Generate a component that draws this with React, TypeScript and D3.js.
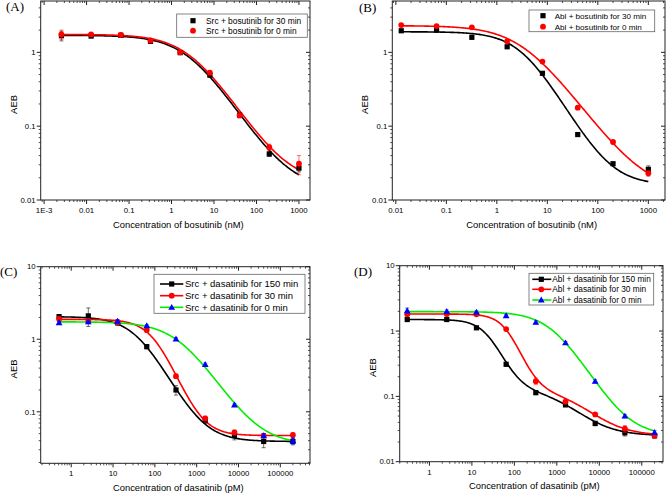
import React from 'react';
import * as d3 from 'd3';

// concentrations (nM for bosutinib, pM for dasatinib)
const bosConcA = [0.00256, 0.0128, 0.064, 0.32, 1.6, 8, 40, 200, 1000];
const bosConcB = [0.0128, 0.064, 0.32, 1.6, 8, 40, 200, 1000];
const dasConcC = [0.512, 2.56, 12.8, 64, 320, 1600, 8000, 40000, 200000];
const dasConcD = [0.3, 2.56, 12.8, 64, 320, 1600, 8000, 40000, 200000];

// AEB values
const srcBos30 = [1.68, 1.66, 1.7, 1.41, 0.99, 0.49, 0.141, 0.042, 0.027];
const srcBos30Err = [0.25, 0.05, 0.05, 0.06, 0.03, 0.02, 0.006, 0.003, 0.003];
const srcBos0 = [1.75, 1.75, 1.72, 1.45, 1.0, 0.53, 0.14, 0.052, 0.031];
const srcBos0Err = [0.25, 0.06, 0.1, 0.08, 0.03, 0.03, 0.01, 0.005, 0.009];

const ablBos30 = [1.96, 2.0, 1.6, 1.19, 0.52, 0.077, 0.031, 0.026];
const ablBos30Err = [0.05, 0.05, 0.1, 0.05, 0.02, 0.003, 0.001, 0.003];
const ablBos0 = [2.34, 2.27, 2.18, 1.41, 0.75, 0.178, 0.061, 0.023];
const ablBos0Err = [0.05, 0.06, 0.05, 0.05, 0.03, 0.006, 0.002, 0.002];

const srcDas150 = [2.05, 2.1, 1.69, 0.79, 0.2, 0.077, 0.047, 0.039, 0.039];
const srcDas150Err = [0.15, 0.6, 0.15, 0.05, 0.03, 0.008, 0.006, 0.007, 0.004];
const srcDas30 = [1.9, 1.79, 1.72, 1.34, 0.31, 0.081, 0.052, 0.047, 0.048];
const srcDas30Err = [0.15, 0.1, 0.1, 0.1, 0.02, 0.006, 0.004, 0.003, 0.003];
const srcDas0 = [1.69, 1.74, 1.78, 1.54, 1.01, 0.45, 0.124, 0.047, 0.04];
const srcDas0Err = [0.08, 0.1, 0.1, 0.05, 0.04, 0.02, 0.005, 0.003, 0.004];

const ablDas150 = [1.5, 1.5, 1.12, 0.31, 0.114, 0.074, 0.0385, 0.0277, 0.025];
const ablDas150Err = [0.05, 0.05, 0.04, 0.02, 0.008, 0.004, 0.003, 0.003, 0.002];
const ablDas30 = [1.8, 1.82, 1.8, 1.07, 0.171, 0.083, 0.053, 0.032, 0.025];
const ablDas30Err = [0.08, 0.08, 0.06, 0.05, 0.02, 0.005, 0.003, 0.004, 0.002];
const ablDas0 = [2.05, 2.0, 1.95, 1.72, 1.36, 0.66, 0.17, 0.05, 0.028];
const ablDas0Err = [0.2, 0.1, 0.1, 0.08, 0.08, 0.03, 0.01, 0.003, 0.002];

// dose-response fit parameters: top, bottom, ic50, hill, fraction, ic50 (2nd phase), hill (2nd)
const fitSrcBos30 = [1.7, 0.014, 2.6, 0.9, 1, 1, 1];
const fitSrcBos0 = [1.75, 0.017, 2.8, 0.9, 1, 1, 1];
const fitAblBos30 = [1.9, 0.016, 3.3, 1.22, 1, 1, 1];
const fitAblBos0 = [2.3, 0.013, 3.34, 0.95, 1, 1, 1];
const fitSrcDas150 = [2.05, 0.039, 40, 1.15, 1, 1, 1];
const fitSrcDas30 = [1.88, 0.047, 100, 1.5, 1, 1, 1];
const fitSrcDas0 = [1.74, 0.035, 420, 0.95, 1, 1, 1];
const fitAblDas150 = [1.5, 0.025, 25, 1.8, 0.932, 1500, 1];
const fitAblDas30 = [1.82, 0.025, 70, 2, 0.945, 3000, 1];
const fitAblDas0 = [1.98, 0.025, 820, 1.1, 1, 1, 1];

const bosTicksA = [0.001, 0.01, 0.1, 1, 10, 100, 1000];
const bosTickLabelsA = ['1E-3', '0.01', '0.1', '1', '10', '100', '1000'];
const bosTicksB = [0.01, 0.1, 1, 10, 100, 1000];
const bosTickLabelsB = ['0.01', '0.1', '1', '10', '100', '1000'];
const dasTicks = [1, 10, 100, 1000, 10000, 100000];
const dasTickLabels = ['1', '10', '100', '1000', '10000', '100000'];
const aebTicksAB = [0.01, 0.1, 1];
const aebLabelsAB = ['0.01', '0.1', '1'];
const aebTicksC = [0.1, 1, 10];
const aebLabelsC = ['0.1', '1', '10'];
const aebTicksD = [0.01, 0.1, 1, 10];
const aebLabelsD = ['0.01', '0.1', '1', '10'];

const SANS = '"Liberation Sans", Arial, sans-serif';
const SERIF = '"Liberation Serif", "Times New Roman", serif';

function doseResp(p) {
  const [top, bottom, c1, h1, frac, c2, h2] = p;
  return (x) => bottom + (top - bottom) *
    (frac / (1 + Math.pow(x / c1, h1)) + (1 - frac) / (1 + Math.pow(x / c2, h2)));
}

function Marker({ type, x, y, fill }) {
  if (type === 'square') return <rect x={x - 2.6} y={y - 2.6} width={5.2} height={5.2} fill={fill} />;
  if (type === 'circle') return <circle cx={x} cy={y} r={2.9} fill={fill} />;
  const s = 3.4;
  return <path d={`M${x},${y - s}L${x + s},${y + s * 0.75}L${x - s},${y + s * 0.75}Z`} fill={fill} />;
}

function minorTicks(dom) {
  const out = [];
  const lo = Math.floor(Math.log10(dom[0])), hi = Math.ceil(Math.log10(dom[1]));
  for (let e = lo; e <= hi; e++) {
    for (let m = 2; m <= 9; m++) {
      const v = m * Math.pow(10, e);
      if (v >= dom[0] && v <= dom[1]) out.push(v);
    }
  }
  return out;
}

function Panel(props) {
  const { box, xDom, yDom, xTicks, xLabels, yTicks, yLabels, xTitle, tag, tagPos, legend, series, conc, fs } = props;
  const x = d3.scaleLog().domain(xDom).range([box.l, box.r]);
  const y = d3.scaleLog().domain(yDom).range([box.b, box.t]);
  const xs = d3.range(0, 201).map(i => Math.exp(Math.log(conc[0]) + (Math.log(conc[conc.length - 1]) - Math.log(conc[0])) * i / 200));
  const ax = '#222';
  return (
    <g>
      <text x={tagPos[0]} y={tagPos[1]} fontFamily={SERIF} fontSize={13}>{tag}</text>
      <rect x={box.l} y={box.t} width={box.r - box.l} height={box.b - box.t} fill="none" stroke={ax} strokeWidth={1} />
      {/* x ticks */}
      {minorTicks(xDom).map((v, i) => (
        <g key={'xm' + i}>
          <line x1={x(v)} x2={x(v)} y1={box.b} y2={box.b + 2} stroke={ax} strokeWidth={0.8} />
          <line x1={x(v)} x2={x(v)} y1={box.t} y2={box.t + 2} stroke={ax} strokeWidth={0.8} />
        </g>
      ))}
      {xTicks.map((v, i) => (
        <g key={'x' + i}>
          <line x1={x(v)} x2={x(v)} y1={box.b} y2={box.b + 4} stroke={ax} strokeWidth={1} />
          <line x1={x(v)} x2={x(v)} y1={box.t} y2={box.t + 4} stroke={ax} strokeWidth={1} />
          <text x={x(v)} y={box.b + 13} textAnchor="middle" fontFamily={SANS} fontSize={fs}>{xLabels[i]}</text>
        </g>
      ))}
      {/* y ticks */}
      {minorTicks(yDom).map((v, i) => (
        <g key={'ym' + i}>
          <line x1={box.l - 2} x2={box.l} y1={y(v)} y2={y(v)} stroke={ax} strokeWidth={0.8} />
          <line x1={box.r - 2} x2={box.r} y1={y(v)} y2={y(v)} stroke={ax} strokeWidth={0.8} />
        </g>
      ))}
      {yTicks.map((v, i) => (
        <g key={'y' + i}>
          <line x1={box.l - 4} x2={box.l} y1={y(v)} y2={y(v)} stroke={ax} strokeWidth={1} />
          <line x1={box.r - 4} x2={box.r} y1={y(v)} y2={y(v)} stroke={ax} strokeWidth={1} />
          <text x={box.l - 5} y={y(v) + fs * 0.35} textAnchor="end" fontFamily={SANS} fontSize={fs}>{yLabels[i]}</text>
        </g>
      ))}
      <text x={(box.l + box.r) / 2 + 3} y={box.b + 27.5} textAnchor="middle" fontFamily={SANS} fontSize={9.4}>{xTitle}</text>
      <text transform={`translate(${box.l - 24},${(box.t + box.b) / 2 + 4}) rotate(-90)`} textAnchor="middle" fontFamily={SANS} fontSize={9.4}>AEB</text>
      {/* fitted curves */}
      {series.map((s, k) => {
        const f = doseResp(s.fit);
        const line = d3.line().x(d => x(d)).y(d => y(f(d)));
        return <path key={'c' + k} d={line(xs)} fill="none" stroke={s.line} strokeWidth={1.6} />;
      })}
      {/* error bars + points */}
      {series.map((s, k) => (
        <g key={'p' + k}>
          {s.y.map((v, i) => {
            const e = s.err[i];
            if (!e) return null;
            const cx = x(conc[i]);
            return (
              <g key={i} stroke={s.color} strokeWidth={0.7} opacity={0.8}>
                <line x1={cx} x2={cx} y1={y(v + e)} y2={y(Math.max(v - e, yDom[0]))} />
                <line x1={cx - 2} x2={cx + 2} y1={y(v + e)} y2={y(v + e)} />
                <line x1={cx - 2} x2={cx + 2} y1={y(v - e)} y2={y(v - e)} />
              </g>
            );
          })}
          {s.y.map((v, i) => <Marker key={i} type={s.marker} x={x(conc[i])} y={y(v)} fill={s.color} />)}
        </g>
      ))}
      {/* legend */}
      <rect x={legend.x} y={legend.y} width={legend.w} height={legend.h} fill="#fff" stroke="#666" strokeWidth={0.8} />
      {series.map((s, k) => {
        const ry = legend.rows[k];
        return (
          <g key={'l' + k}>
            {legend.line && <line x1={legend.line[0]} x2={legend.line[1]} y1={ry} y2={ry} stroke={s.line} strokeWidth={1.6} />}
            <Marker type={s.marker} x={legend.mx} y={ry} fill={s.color} />
            <text x={legend.tx} y={ry + legend.fs * 0.36} fontFamily={SANS} fontSize={legend.fs}>{s.name}</text>
          </g>
        );
      })}
    </g>
  );
}

export default function App() {
  const seriesA = [
    { name: 'Src + bosutinib for 30 min', y: srcBos30, err: srcBos30Err, fit: fitSrcBos30, color: '#000', line: '#000', marker: 'square' },
    { name: 'Src + bosutinib for 0 min', y: srcBos0, err: srcBos0Err, fit: fitSrcBos0, color: '#ff0000', line: '#ff0000', marker: 'circle' },
  ];
  const seriesB = [
    { name: 'Abl + bosutinib for 30 min', y: ablBos30, err: ablBos30Err, fit: fitAblBos30, color: '#000', line: '#000', marker: 'square' },
    { name: 'Abl + bosutinib for 0 min', y: ablBos0, err: ablBos0Err, fit: fitAblBos0, color: '#ff0000', line: '#ff0000', marker: 'circle' },
  ];
  const seriesC = [
    { name: 'Src + dasatinib for 150 min', y: srcDas150, err: srcDas150Err, fit: fitSrcDas150, color: '#000', line: '#000', marker: 'square' },
    { name: 'Src + dasatinib for 30 min', y: srcDas30, err: srcDas30Err, fit: fitSrcDas30, color: '#ff0000', line: '#ff0000', marker: 'circle' },
    { name: 'Src + dasatinib for 0 min', y: srcDas0, err: srcDas0Err, fit: fitSrcDas0, color: '#0000ff', line: '#00ee00', marker: 'triangle' },
  ];
  const seriesD = [
    { name: 'Abl + dasatinib for 150 min', y: ablDas150, err: ablDas150Err, fit: fitAblDas150, color: '#000', line: '#000', marker: 'square' },
    { name: 'Abl + dasatinib for 30 min', y: ablDas30, err: ablDas30Err, fit: fitAblDas30, color: '#ff0000', line: '#ff0000', marker: 'circle' },
    { name: 'Abl + dasatinib for 0 min', y: ablDas0, err: ablDas0Err, fit: fitAblDas0, color: '#0000ff', line: '#00ee00', marker: 'triangle' },
  ];
  return (
    <svg width={666} height={493} style={{ position: 'absolute', left: 0, top: 0, background: '#fff' }}>
      <Panel tag="(A)" tagPos={[6, 11]} box={{ l: 40.7, r: 310, t: 1, b: 200 }}
        xDom={[Math.pow(10, -3.08), Math.pow(10, 3.26)]} yDom={[0.01, 4.96]}
        xTicks={bosTicksA} xLabels={bosTickLabelsA} yTicks={aebTicksAB} yLabels={aebLabelsAB}
        xTitle="Concentration of bosutinib (nM)" conc={bosConcA} series={seriesA} fs={7.8}
        legend={{ x: 176.7, y: 14, w: 130.6, h: 23.3, rows: [20.7, 30.7], mx: 193, tx: 206, fs: 8.4 }} />
      <Panel tag="(B)" tagPos={[359, 11.5]} box={{ l: 392.3, r: 665, t: 1, b: 200 }}
        xDom={[Math.pow(10, -2.07), Math.pow(10, 3.33)]} yDom={[0.01, 4.96]}
        xTicks={bosTicksB} xLabels={bosTickLabelsB} yTicks={aebTicksAB} yLabels={aebLabelsAB}
        xTitle="Concentration of bosutinib (nM)" conc={bosConcB} series={seriesB} fs={7.8}
        legend={{ x: 529, y: 10, w: 125.7, h: 21.7, rows: [15.7, 26.7], mx: 543, tx: 554.7, fs: 8.1 }} />
      <Panel tag="(C)" tagPos={[0, 276]} box={{ l: 40.7, r: 310, t: 266.7, b: 463.3 }}
        xDom={[Math.pow(10, -0.73), Math.pow(10, 5.71)]} yDom={[Math.pow(10, -1.71), 10]}
        xTicks={dasTicks} xLabels={dasTickLabels} yTicks={aebTicksC} yLabels={aebLabelsC}
        xTitle="Concentration of dasatinib (pM)" conc={dasConcC} series={seriesC} fs={7.8}
        legend={{ x: 154, y: 274.3, w: 151, h: 39, rows: [284, 295.7, 307.3], line: [160, 183.3], mx: 171.7, tx: 185, fs: 9.5 }} />
      <Panel tag="(D)" tagPos={[354, 275.5]} box={{ l: 399.7, r: 663, t: 265.7, b: 461.7 }}
        xDom={[Math.pow(10, -0.7), Math.pow(10, 5.5)]} yDom={[0.01, 10]}
        xTicks={dasTicks} xLabels={dasTickLabels} yTicks={aebTicksD} yLabels={aebLabelsD}
        xTitle="Concentration of dasatinib (pM)" conc={dasConcD} series={seriesD} fs={7.8}
        legend={{ x: 529, y: 273.3, w: 124.7, h: 31.7, rows: [279.3, 289.3, 300], line: [532.3, 551.3], mx: 541.3, tx: 552.3, fs: 8.3 }} />
    </svg>
  );
}
